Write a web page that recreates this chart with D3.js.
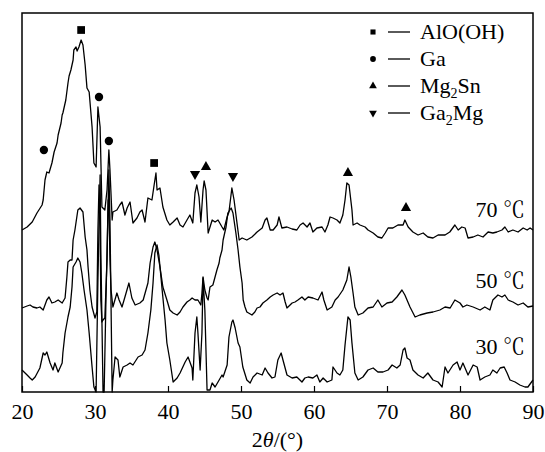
<!DOCTYPE html>
<html>
<head>
<meta charset="utf-8">
<script src="https://cdn.jsdelivr.net/npm/d3@7/dist/d3.min.js"></script>
<style>
  body { margin: 0; background: #fff; }
</style>
</head>
<body>
<div id="chart-area"></div>
<script>
// XRD patterns, [2theta, intensity (a.u., stacked)]
let trace70 = [[20.0,162],[20.7,165],[21.4,170],[22.05,179],[22.75,187],[22.9,192],[23.15,212],[23.4,220],[23.7,219],[24.1,229],[24.4,240],[24.8,249],[24.95,257],[25.35,269],[25.5,277],[25.6,279],[26.0,292],[26.3,309],[26.45,316],[26.7,322],[27.0,332],[27.1,342],[27.4,345],[27.55,341],[27.8,345],[28.1,352],[28.35,347],[28.65,327],[28.9,304],[29.2,300],[29.6,265],[29.85,229],[30.15,225],[30.4,285],[30.7,265],[30.95,185],[31.35,182],[31.65,202],[31.9,242],[32.05,222],[32.35,172],[32.45,180],[33.0,182],[33.4,187],[33.7,190],[34.1,177],[34.4,184],[34.8,190],[35.2,169],[35.75,174],[36.15,180],[36.45,182],[36.85,170],[37.25,194],[37.8,192],[38.1,207],[38.35,219],[38.5,202],[38.9,204],[39.3,185],[39.85,172],[40.25,167],[40.7,170],[41.25,174],[41.65,167],[42.05,165],[42.6,172],[43.0,177],[43.4,169],[43.7,199],[43.95,207],[44.25,195],[44.5,170],[44.8,202],[44.95,211],[45.2,202],[45.5,159],[46.05,172],[46.45,170],[46.85,172],[47.4,165],[47.65,162],[48.1,175],[48.35,180],[48.75,204],[49.05,192],[49.45,169],[49.75,152],[50.15,154],[50.8,152],[51.5,155],[52.2,160],[52.9,164],[53.3,172],[53.55,174],[54.0,162],[54.4,162],[54.95,167],[55.2,175],[55.6,164],[56.3,165],[57.0,163],[57.65,162],[58.1,167],[58.5,169],[59.05,165],[59.45,169],[59.85,160],[60.4,164],[61.1,165],[61.5,160],[61.9,167],[62.2,175],[62.6,174],[63.15,172],[63.55,169],[63.95,177],[64.25,192],[64.5,209],[64.8,207],[65.2,182],[65.35,167],[65.9,169],[66.3,167],[67.0,165],[67.4,162],[68.1,159],[68.75,155],[69.3,154],[69.75,159],[70.15,164],[70.8,164],[71.5,167],[72.2,167],[72.45,172],[72.9,165],[73.55,160],[74.25,157],[74.95,159],[75.6,155],[76.3,154],[77.0,157],[77.95,157],[78.6,160],[79.3,167],[79.75,162],[80.25,165],[80.7,164],[81.1,154],[81.8,155],[82.45,157],[83.15,155],[83.85,160],[84.5,159],[85.05,160],[85.75,162],[86.15,165],[86.6,160],[87.25,162],[87.95,160],[88.65,164],[89.2,162],[89.6,164],[90.0,162]];

let trace50 = [[20.0,84],[20.7,86],[21.1,87],[21.5,85],[22.05,84],[22.45,85],[22.9,82],[23.4,92],[23.7,95],[24.1,89],[24.5,90],[24.95,92],[25.5,89],[25.9,94],[26.15,115],[26.3,130],[26.6,132],[26.85,132],[27.0,152],[27.25,162],[27.65,182],[27.95,184],[28.35,180],[28.65,155],[28.9,142],[29.05,125],[29.3,102],[29.6,85],[30.0,74],[30.25,80],[30.4,162],[30.55,207],[30.7,162],[30.8,92],[30.95,70],[31.1,72],[31.35,74],[31.65,132],[31.8,192],[31.9,192],[32.05,132],[32.2,102],[32.45,85],[33.0,99],[33.3,92],[33.7,85],[34.1,95],[34.65,109],[35.05,94],[35.5,87],[36.15,89],[36.6,92],[37.25,109],[37.55,129],[37.95,145],[38.2,150],[38.5,142],[38.9,125],[39.3,105],[39.85,92],[40.25,82],[40.7,79],[41.25,77],[41.65,80],[42.05,85],[42.6,90],[43.0,92],[43.3,94],[43.7,92],[44.1,92],[44.5,87],[44.65,99],[44.8,115],[45.05,102],[45.35,94],[45.5,92],[45.75,105],[46.15,107],[46.7,122],[47.0,129],[47.1,134],[47.4,142],[47.55,152],[47.95,165],[48.2,179],[48.65,184],[48.9,179],[49.3,159],[49.6,142],[49.85,125],[50.15,109],[50.3,92],[50.55,85],[50.8,80],[51.5,77],[51.9,80],[52.2,84],[52.6,85],[53.0,89],[53.55,92],[54.0,95],[54.4,97],[54.95,99],[55.35,97],[55.75,99],[56.05,90],[56.3,84],[57.0,89],[57.4,90],[57.8,92],[58.35,95],[58.75,92],[59.2,95],[59.85,94],[60.55,92],[61.1,100],[61.35,92],[61.8,82],[62.45,85],[62.9,92],[63.3,95],[63.95,102],[64.5,112],[64.8,125],[65.05,115],[65.35,99],[65.6,85],[66.05,77],[66.7,79],[67.4,84],[68.1,85],[68.75,92],[69.3,85],[70.0,89],[70.7,90],[71.35,95],[72.05,102],[72.45,97],[73.15,85],[73.85,75],[74.5,77],[75.5,79],[76.3,80],[77.25,82],[77.95,85],[78.65,84],[79.3,92],[80.0,89],[80.4,85],[80.95,87],[81.8,85],[82.75,82],[83.4,85],[84.1,82],[84.5,92],[85.2,97],[85.75,95],[86.15,97],[86.6,92],[87.25,90],[87.95,87],[88.65,89],[89.3,85],[90.0,86]];

let trace30 = [[20.0,22],[20.7,17],[21.1,14],[21.4,12],[21.8,15],[22.45,24],[22.9,39],[23.15,37],[23.4,40],[23.85,29],[24.25,22],[24.5,29],[24.95,20],[25.5,29],[25.6,39],[25.9,59],[26.3,75],[26.6,85],[26.85,105],[27.0,125],[27.4,130],[27.65,134],[27.95,130],[28.2,119],[28.5,102],[28.9,82],[29.2,59],[29.6,25],[29.85,5],[30.15,0],[30.4,112],[30.7,217],[30.8,142],[31.1,0],[31.25,0],[31.5,92],[31.9,222],[32.05,172],[32.35,0],[32.45,12],[32.75,35],[33.15,32],[33.4,15],[33.85,25],[34.4,27],[34.8,29],[35.2,27],[35.9,35],[36.45,37],[36.85,42],[37.25,59],[37.65,82],[37.95,109],[38.2,139],[38.5,147],[38.75,137],[39.2,102],[39.6,72],[39.85,49],[40.25,32],[40.7,10],[41.25,14],[41.65,19],[42.35,30],[42.75,35],[43.3,24],[43.4,12],[43.7,59],[43.95,75],[44.1,59],[44.4,22],[44.65,59],[44.8,114],[45.05,82],[45.35,2],[45.75,2],[46.05,9],[46.45,5],[46.85,10],[47.4,17],[47.55,15],[48.1,27],[48.35,55],[48.75,70],[48.9,72],[49.2,64],[49.6,49],[49.85,45],[50.25,25],[50.8,12],[51.25,9],[51.65,15],[52.2,19],[52.9,17],[53.3,24],[53.7,19],[54.25,14],[54.65,15],[55.05,32],[55.5,39],[55.75,32],[56.3,17],[57.0,14],[57.65,15],[58.35,10],[58.75,14],[59.2,15],[59.85,14],[60.4,17],[60.8,10],[61.25,14],[61.8,10],[62.45,12],[62.6,25],[63.15,19],[63.55,17],[63.95,22],[64.25,47],[64.65,75],[64.95,72],[65.2,49],[65.6,19],[66.05,12],[66.7,15],[67.4,22],[68.1,24],[68.75,20],[69.45,20],[70.15,22],[70.7,27],[71.35,24],[71.8,27],[72.2,42],[72.45,44],[72.75,34],[73.15,32],[73.55,22],[74.25,17],[74.95,14],[75.6,19],[76.3,12],[77.0,10],[77.55,5],[77.95,25],[78.35,19],[79.05,27],[79.6,30],[80.0,22],[80.4,29],[81.1,17],[81.8,27],[82.35,25],[82.75,12],[83.4,15],[84.1,17],[84.5,22],[85.05,19],[85.5,24],[86.05,25],[86.45,19],[86.85,12],[87.55,10],[88.2,7],[88.9,5],[89.3,5],[90.0,12]];

// phase markers above the 70 C pattern: [2theta, intensity, phase]
let peakMarks = [[23.0,242,"Ga"],[28.1,362,"AlO"],[30.55,295,"Ga"],[31.9,251,"Ga"],[38.1,229,"AlO"],[43.7,218,"Ga2Mg"],[45.2,225,"Mg2Sn"],[48.9,216,"Ga2Mg"],[64.65,219,"Mg2Sn"],[72.6,184,"Mg2Sn"]];

let sampleTemps = ["70", "50", "30"];
let labelLevels = [175, 104, 38];
let xTicks = [20, 30, 40, 50, 60, 70, 80, 90];

let phases = ["AlO", "Ga", "Mg2Sn", "Ga2Mg"];
let phaseNames = [["AlO(OH)"], ["Ga"], ["Mg", "2", "Sn"], ["Ga", "2", "Mg"]];

let serif = "'Liberation Serif', 'Times New Roman', serif";
let cjkSerif = "'Noto Serif CJK SC', 'Noto Sans CJK SC', serif";
let width = 545, height = 452;
let margin = {top: 13, right: 12, bottom: 60, left: 22};

let svg = d3.select("#chart-area").append("svg")
    .attr("width", width)
    .attr("height", height)
    .style("font-family", serif);

let x = d3.scaleLinear().domain([20, 90]).range([margin.left, width - margin.right]);
let y = d3.scaleLinear().domain([0, 379]).range([height - margin.bottom, margin.top]);

let line = d3.line().x(d => x(d[0])).y(d => y(d[1]));

[trace70, trace50, trace30].forEach(t => {
    svg.append("path")
        .datum(t)
        .attr("d", line)
        .attr("fill", "none")
        .attr("stroke", "#000")
        .attr("stroke-width", 1.3)
        .attr("stroke-linejoin", "round");
});

// frame
svg.append("rect")
    .attr("x", margin.left).attr("y", margin.top)
    .attr("width", width - margin.left - margin.right)
    .attr("height", height - margin.top - margin.bottom)
    .attr("fill", "none").attr("stroke", "#000").attr("stroke-width", 1.5);

let xAxis = svg.append("g")
    .attr("transform", "translate(0," + (height - margin.bottom) + ")")
    .call(d3.axisBottom(x).tickValues(xTicks).tickSizeInner(-6).tickSizeOuter(0));
xAxis.attr("font-family", null).attr("font-size", null);
xAxis.select(".domain").remove();
xAxis.selectAll("line").attr("stroke", "#000").attr("stroke-width", 1.2);
xAxis.selectAll("text")
    .style("font-family", serif).style("font-size", "22px")
    .attr("fill", "#000").attr("dy", null).attr("y", 27);

svg.append("text")
    .attr("x", (x(20) + x(90)) / 2)
    .attr("y", 447)
    .attr("text-anchor", "middle")
    .style("font-family", serif)
    .style("font-size", "22px")
    .call(t => {
        t.append("tspan").text("2");
        t.append("tspan").style("font-style", "italic").text("θ");
        t.append("tspan").text("/(°)");
    });

function symbolFor(p, size) {
    if (p == "AlO") return d3.symbol(d3.symbolSquare, size)();
    if (p == "Ga") return d3.symbol(d3.symbolCircle, size)();
    return d3.symbol(d3.symbolTriangle, size)();
}

svg.selectAll(".mark")
    .data(peakMarks)
    .enter().append("path")
    .attr("class", "mark")
    .attr("d", d => symbolFor(d[2], d[2] == "AlO" ? 60 : d[2] == "Ga" ? 55 : 45))
    .attr("transform", d => "translate(" + x(d[0]) + "," + y(d[1]) + ")" + (d[2] == "Ga2Mg" ? " rotate(180)" : ""))
    .attr("fill", "#000");

// sample labels
svg.selectAll(".slabel")
    .data(sampleTemps)
    .enter().append("text")
    .attr("class", "slabel")
    .attr("x", x(88.9))
    .attr("y", (d, i) => y(labelLevels[i]))
    .attr("text-anchor", "end")
    .style("font-family", serif)
    .style("font-size", "22px")
    .each(function(d) {
        let t = d3.select(this);
        t.append("tspan").text(d + " ");
        t.append("tspan").style("font-family", cjkSerif).text("℃");
    });

// legend
let legend = svg.append("g").attr("transform", "translate(373,32)");
phases.forEach((p, i) => {
    let g = legend.append("g").attr("transform", "translate(0," + (i * 27) + ")");
    g.append("path")
        .attr("d", symbolFor(p, 26))
        .attr("transform", p == "Ga2Mg" ? "rotate(180)" : null)
        .attr("fill", "#000");
    g.append("line").attr("x1", 15).attr("x2", 37).attr("y1", 0).attr("y2", 0)
        .attr("stroke", "#000").attr("stroke-width", 1.3);
    let t = g.append("text").attr("x", 47).attr("y", 7)
        .style("font-family", serif).style("font-size", "22px");
    let parts = phaseNames[i];
    if (parts.length == 1) t.text(parts[0]);
    else {
        t.append("tspan").text(parts[0]);
        t.append("tspan").attr("dy", 5).style("font-size", "14px").text(parts[1]);
        t.append("tspan").attr("dy", -5).text(parts[2]);
    }
});
</script>
</body>
</html>
